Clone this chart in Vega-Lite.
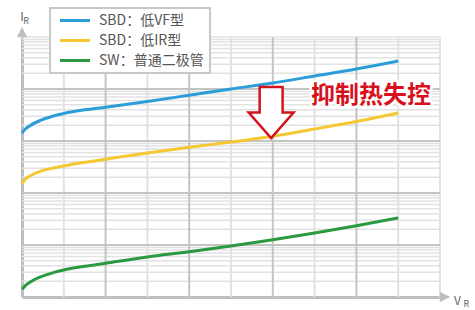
{
  "$schema": "https://vega.github.io/schema/vega-lite/v6.json",
  "width": 418,
  "height": 260,
  "autosize": {"type": "none"},
  "padding": {"left": 22, "top": 37, "right": 35, "bottom": 13},
  "background": "white",
  "config": {
    "view": {"stroke": null},
    "axis": {"labels": false, "ticks": false, "grid": false, "domainColor": "#bfbfbf", "domainWidth": 3},
    "legend": {
      "orient": "none", "legendX": 28, "legendY": -29,
      "strokeColor": "#c8c8c8", "strokeWidth": 2, "fillColor": "white", "padding": 5.5,
      "symbolType": "M-3,0H3", "symbolSize": 100, "symbolStrokeWidth": 3, "symbolOffset": 12.5,
      "labelFontSize": 14, "labelColor": "#555555", "labelFont": "Noto Sans CJK SC", "labelOffset": 17,
      "rowPadding": 6
    }
  },
  "datasets": {
    "vminor": [{"x": 1}, {"x": 3}, {"x": 5}, {"x": 7}, {"x": 9}, {"x": 10}],
    "vmajor": [{"x": 2}, {"x": 4}, {"x": 6}, {"x": 8}],
    "hmajor": [{"I": 10}, {"I": 100}, {"I": 1000}, {"I": 10000}],
    "hminor": [
      {"I": 2}, {"I": 3}, {"I": 4}, {"I": 5}, {"I": 6}, {"I": 7}, {"I": 8}, {"I": 9},
      {"I": 20}, {"I": 30}, {"I": 40}, {"I": 50}, {"I": 60}, {"I": 70}, {"I": 80}, {"I": 90},
      {"I": 200}, {"I": 300}, {"I": 400}, {"I": 500}, {"I": 600}, {"I": 700}, {"I": 800}, {"I": 900},
      {"I": 2000}, {"I": 3000}, {"I": 4000}, {"I": 5000}, {"I": 6000}, {"I": 7000}, {"I": 8000}, {"I": 9000},
      {"I": 20000}, {"I": 30000}, {"I": 40000}, {"I": 50000}, {"I": 60000}, {"I": 70000}, {"I": 80000}, {"I": 90000},
      {"I": 100000}
    ],
    "curves": [
      {"series": "SBD：低VF型", "x": 0, "I": 1413},
      {"series": "SBD：低VF型", "x": 0.08, "I": 1698},
      {"series": "SBD：低VF型", "x": 0.2, "I": 1995},
      {"series": "SBD：低VF型", "x": 0.45, "I": 2512},
      {"series": "SBD：低VF型", "x": 0.75, "I": 3020},
      {"series": "SBD：低VF型", "x": 1, "I": 3388},
      {"series": "SBD：低VF型", "x": 1.5, "I": 3981},
      {"series": "SBD：低VF型", "x": 2, "I": 4467},
      {"series": "SBD：低VF型", "x": 3, "I": 5754},
      {"series": "SBD：低VF型", "x": 4, "I": 7586},
      {"series": "SBD：低VF型", "x": 5, "I": 10000},
      {"series": "SBD：低VF型", "x": 6, "I": 13030},
      {"series": "SBD：低VF型", "x": 7, "I": 17780},
      {"series": "SBD：低VF型", "x": 8, "I": 24270},
      {"series": "SBD：低VF型", "x": 9, "I": 34670},
      {"series": "SBD：低IR型", "x": 0, "I": 151},
      {"series": "SBD：低IR型", "x": 0.08, "I": 186},
      {"series": "SBD：低IR型", "x": 0.2, "I": 214},
      {"series": "SBD：低IR型", "x": 0.45, "I": 263},
      {"series": "SBD：低IR型", "x": 0.75, "I": 302},
      {"series": "SBD：低IR型", "x": 1, "I": 331},
      {"series": "SBD：低IR型", "x": 1.5, "I": 389},
      {"series": "SBD：低IR型", "x": 2, "I": 447},
      {"series": "SBD：低IR型", "x": 3, "I": 589},
      {"series": "SBD：低IR型", "x": 4, "I": 759},
      {"series": "SBD：低IR型", "x": 5, "I": 955},
      {"series": "SBD：低IR型", "x": 6, "I": 1230},
      {"series": "SBD：低IR型", "x": 7, "I": 1698},
      {"series": "SBD：低IR型", "x": 8, "I": 2371},
      {"series": "SBD：低IR型", "x": 9, "I": 3467},
      {"series": "SW：普通二极管", "x": 0, "I": 1.41},
      {"series": "SW：普通二极管", "x": 0.08, "I": 1.66},
      {"series": "SW：普通二极管", "x": 0.2, "I": 1.95},
      {"series": "SW：普通二极管", "x": 0.45, "I": 2.45},
      {"series": "SW：普通二极管", "x": 0.75, "I": 2.95},
      {"series": "SW：普通二极管", "x": 1, "I": 3.31},
      {"series": "SW：普通二极管", "x": 1.5, "I": 3.89},
      {"series": "SW：普通二极管", "x": 2, "I": 4.47},
      {"series": "SW：普通二极管", "x": 3, "I": 5.89},
      {"series": "SW：普通二极管", "x": 4, "I": 7.41},
      {"series": "SW：普通二极管", "x": 5, "I": 9.55},
      {"series": "SW：普通二极管", "x": 6, "I": 12.59},
      {"series": "SW：普通二极管", "x": 7, "I": 16.98},
      {"series": "SW：普通二极管", "x": 8, "I": 23.44},
      {"series": "SW：普通二极管", "x": 9, "I": 33.11}
    ],
    "arrow": [{"x": 5.96, "I": 3532}],
    "note": [{"x": 8.35, "I": 7328, "label": "抑制热失控"}],
    "yhead": [{"x": 0, "I": 124700}],
    "xhead": [{"x": 10.12, "I": 1}],
    "axisbig": [{"x": 0, "I": 242000, "label": "I"}, {"x": 10.42, "I": 0.838, "label": "V"}],
    "axissub": [{"x": 0.1, "I": 198700, "label": "R"}, {"x": 10.63, "I": 0.733, "label": "R"}]
  },
  "layer": [
    {
      "data": {"name": "vminor"},
      "mark": {"type": "rule", "color": "#e2e2e2", "strokeWidth": 2},
      "encoding": {"x": {"field": "x", "type": "quantitative", "scale": {"domain": [0, 10], "nice": false, "zero": false}, "title": null}}
    },
    {
      "data": {"name": "hminor"},
      "mark": {"type": "rule", "color": "#e2e2e2", "strokeWidth": 1.5},
      "encoding": {"y": {"field": "I", "type": "quantitative", "scale": {"type": "log", "domain": [1, 100000], "nice": false}, "title": null}}
    },
    {
      "data": {"name": "vmajor"},
      "mark": {"type": "rule", "color": "#c4c4c4", "strokeWidth": 2},
      "encoding": {"x": {"field": "x", "type": "quantitative", "scale": {"domain": [0, 10], "nice": false, "zero": false}, "title": null}}
    },
    {
      "data": {"name": "hmajor"},
      "mark": {"type": "rule", "color": "#c4c4c4", "strokeWidth": 2},
      "encoding": {"y": {"field": "I", "type": "quantitative", "scale": {"type": "log", "domain": [1, 100000], "nice": false}, "title": null}}
    },
    {
      "data": {"name": "curves"},
      "mark": {"type": "line", "strokeWidth": 3, "interpolate": "monotone"},
      "encoding": {
        "x": {"field": "x", "type": "quantitative", "scale": {"domain": [0, 10], "nice": false, "zero": false}, "title": null},
        "y": {"field": "I", "type": "quantitative", "scale": {"type": "log", "domain": [1, 100000], "nice": false}, "title": null},
        "color": {
          "field": "series", "type": "nominal",
          "scale": {"domain": ["SBD：低VF型", "SBD：低IR型", "SW：普通二极管"], "range": ["#2b9ed9", "#f3c832", "#2a9a40"]},
          "legend": {"title": null, "labelExpr": "datum.label == 'SW：普通二极管' ? datum.label + '\u3000\u3000\u3000' : datum.label"}
        }
      }
    },
    {
      "data": {"name": "arrow"},
      "mark": {"type": "point", "shape": "M-0.45,-1L0.45,-1L0.45,0L0.88,0L0,1L-0.88,0L-0.45,0Z", "size": 2601, "filled": true, "fill": "white", "stroke": "#d2141c", "strokeWidth": 2.5, "opacity": 1},
      "encoding": {
        "x": {"field": "x", "type": "quantitative", "scale": {"domain": [0, 10], "nice": false, "zero": false}, "title": null},
        "y": {"field": "I", "type": "quantitative", "scale": {"type": "log", "domain": [1, 100000], "nice": false}, "title": null}
      }
    },
    {
      "data": {"name": "note"},
      "mark": {"type": "text", "font": "Noto Sans CJK SC", "fontWeight": "bold", "fontSize": 24, "align": "center", "baseline": "middle", "fill": "white", "stroke": "white", "strokeWidth": 5, "strokeJoin": "round"},
      "encoding": {
        "x": {"field": "x", "type": "quantitative", "scale": {"domain": [0, 10], "nice": false, "zero": false}, "title": null},
        "y": {"field": "I", "type": "quantitative", "scale": {"type": "log", "domain": [1, 100000], "nice": false}, "title": null},
        "text": {"field": "label"}
      }
    },
    {
      "data": {"name": "note"},
      "mark": {"type": "text", "font": "Noto Sans CJK SC", "fontWeight": "bold", "fontSize": 24, "align": "center", "baseline": "middle", "color": "#d8101c"},
      "encoding": {
        "x": {"field": "x", "type": "quantitative", "scale": {"domain": [0, 10], "nice": false, "zero": false}, "title": null},
        "y": {"field": "I", "type": "quantitative", "scale": {"type": "log", "domain": [1, 100000], "nice": false}, "title": null},
        "text": {"field": "label"}
      }
    },
    {
      "data": {"name": "yhead"},
      "mark": {"type": "point", "shape": "M0,-1L1,1L-1,1Z", "size": 110, "filled": true, "color": "#c0c0c0", "opacity": 1},
      "encoding": {
        "x": {"field": "x", "type": "quantitative", "scale": {"domain": [0, 10], "nice": false, "zero": false}, "title": null},
        "y": {"field": "I", "type": "quantitative", "scale": {"type": "log", "domain": [1, 100000], "nice": false}, "title": null}
      }
    },
    {
      "data": {"name": "xhead"},
      "mark": {"type": "point", "shape": "M1,0L-1,-1L-1,1Z", "size": 110, "filled": true, "color": "#c0c0c0", "opacity": 1},
      "encoding": {
        "x": {"field": "x", "type": "quantitative", "scale": {"domain": [0, 10], "nice": false, "zero": false}, "title": null},
        "y": {"field": "I", "type": "quantitative", "scale": {"type": "log", "domain": [1, 100000], "nice": false}, "title": null}
      }
    },
    {
      "data": {"name": "axisbig"},
      "mark": {"type": "text", "font": "Noto Sans CJK SC", "fontSize": 12, "align": "center", "baseline": "middle", "color": "#666666"},
      "encoding": {
        "x": {"field": "x", "type": "quantitative", "scale": {"domain": [0, 10], "nice": false, "zero": false}, "title": null},
        "y": {"field": "I", "type": "quantitative", "scale": {"type": "log", "domain": [1, 100000], "nice": false}, "title": null},
        "text": {"field": "label"}
      }
    },
    {
      "data": {"name": "axissub"},
      "mark": {"type": "text", "font": "Noto Sans CJK SC", "fontSize": 9, "align": "center", "baseline": "middle", "color": "#666666"},
      "encoding": {
        "x": {"field": "x", "type": "quantitative", "scale": {"domain": [0, 10], "nice": false, "zero": false}, "title": null},
        "y": {"field": "I", "type": "quantitative", "scale": {"type": "log", "domain": [1, 100000], "nice": false}, "title": null},
        "text": {"field": "label"}
      }
    }
  ]
}
